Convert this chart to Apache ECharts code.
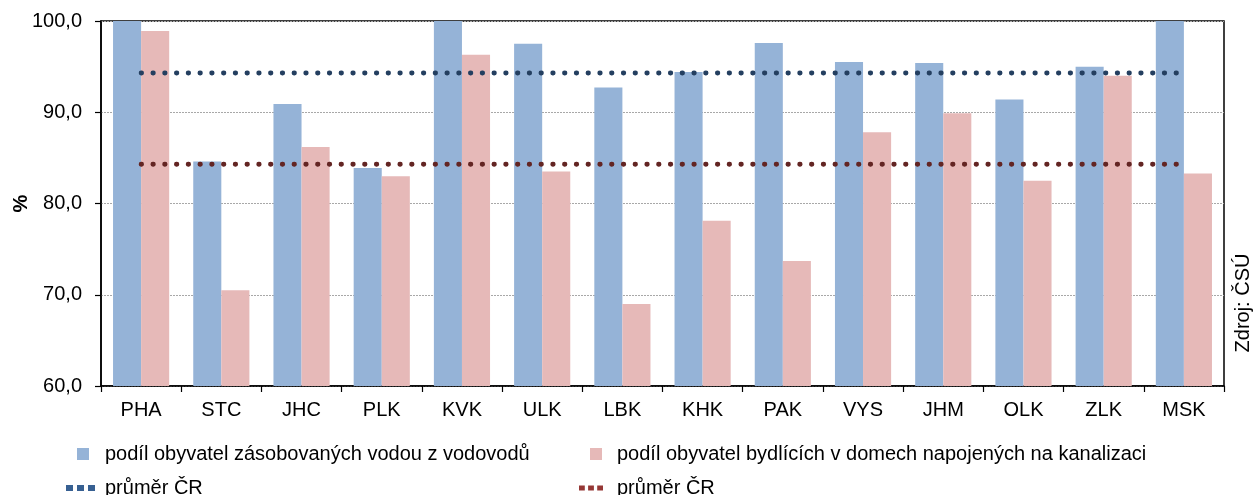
<!DOCTYPE html>
<html>
<head>
<meta charset="utf-8">
<script src="https://cdn.jsdelivr.net/npm/echarts@6/dist/echarts.min.js"></script>
<style>
html,body{margin:0;padding:0;background:#fff;}
#chart{width:1255px;height:495px;}
</style>
</head>
<body>
<div id="chart"></div>
<script>
const categories = ['PHA','STC','JHC','PLK','KVK','ULK','LBK','KHK','PAK','VYS','JHM','OLK','ZLK','MSK'];
const waterShare = [100.0, 84.6, 90.9, 83.9, 100.0, 97.5, 92.7, 94.4, 97.6, 95.5, 95.4, 91.4, 95.0, 100.0];
const sewerShare = [98.9, 70.5, 86.2, 83.0, 96.3, 83.5, 69.0, 78.1, 73.7, 87.8, 89.9, 82.5, 94.0, 83.3];
const avgWater = 94.3;
const avgSewer = 84.3;
const yTicks = [60, 70, 80, 90, 100];

const nameWater = 'podíl obyvatel zásobovaných vodou z vodovodů';
const nameSewer = 'podíl obyvatel bydlících v domech napojených na kanalizaci';
const nameAvgWater = 'průměr ČR (voda)';
const nameAvgSewer = 'průměr ČR (kanalizace)';

const FONT = "'Liberation Sans', Arial, sans-serif";
const dotsIcon = 'path://M0,0h7v6h-7z M11,0h7v6h-7z M22,0h7v6h-7z';

const chart = echarts.init(document.getElementById('chart'), null, {renderer: 'canvas'});
const legendBase = {
  orient: 'horizontal', padding: 0, selectedMode: false,
  textStyle: {fontFamily: FONT, fontSize: 20, color: '#000'}
};
chart.setOption({
  animation: false,
  backgroundColor: '#fff',
  textStyle: {fontFamily: FONT},
  grid: {left: 101, right: 31, top: 21, bottom: 109, show: true, borderColor: '#000', borderWidth: 1.5,
    containLabel: false, outerBoundsMode: 'none'},
  xAxis: {
    type: 'category', data: categories, boundaryGap: true,
    axisLine: {show: true, lineStyle: {color: '#000', width: 1.5}},
    axisTick: {show: true, length: 6, lineStyle: {color: '#000', width: 1.2}},
    axisLabel: {fontFamily: FONT, fontSize: 20, color: '#000', margin: 14},
    splitLine: {show: false}
  },
  yAxis: {
    type: 'value', min: yTicks[0], max: yTicks[yTicks.length - 1], interval: 10,
    name: '%', nameLocation: 'middle', nameGap: 70, nameRotate: 90, nameMoveOverlap: false,
    nameTextStyle: {fontFamily: FONT, fontSize: 20, fontWeight: 'bold', color: '#000'},
    axisLine: {show: true, lineStyle: {color: '#000', width: 1.5}},
    axisTick: {show: true, length: 6, lineStyle: {color: '#000', width: 1.2}},
    axisLabel: {fontFamily: FONT, fontSize: 20, color: '#000', margin: 19,
      formatter: v => v.toFixed(1).replace('.', ',')},
    splitLine: {show: true, lineStyle: {color: '#a8a8a8', width: 1, type: [2, 1]}}
  },
  legend: [
    Object.assign({}, legendBase, {
      left: 77, top: 444, itemWidth: 12, itemHeight: 12,
      data: [{name: nameWater, icon: 'rect', itemStyle: {color: '#95B3D7'}}],
      textStyle: Object.assign({}, legendBase.textStyle, {padding: [0, 0, 0, 11]})
    }),
    Object.assign({}, legendBase, {
      left: 590, top: 444, itemWidth: 12, itemHeight: 12,
      data: [{name: nameSewer, icon: 'rect', itemStyle: {color: '#E6B9B8'}}],
      textStyle: Object.assign({}, legendBase.textStyle, {padding: [0, 0, 0, 10]})
    }),
    Object.assign({}, legendBase, {
      left: 66, top: 478, itemWidth: 29, itemHeight: 6,
      data: [{name: nameAvgWater, icon: dotsIcon, itemStyle: {color: '#376092'}}],
      formatter: () => 'průměr ČR',
      textStyle: Object.assign({}, legendBase.textStyle, {padding: [0, 0, 0, 5]})
    }),
    Object.assign({}, legendBase, {
      left: 579, top: 478, itemWidth: 24, itemHeight: 5,
      data: [{name: nameAvgSewer, icon: dotsIcon, itemStyle: {color: '#953735'}}],
      formatter: () => 'průměr ČR',
      textStyle: Object.assign({}, legendBase.textStyle, {padding: [0, 0, 0, 9]})
    })
  ],
  graphic: [{
    type: 'text', x: 1243, y: 303, rotation: Math.PI / 2,
    style: {text: 'Zdroj: ČSÚ', font: "20px 'Liberation Sans', Arial, sans-serif", fill: '#000',
      textAlign: 'center', textVerticalAlign: 'middle'}
  }],
  series: [
    {name: nameWater, type: 'bar', data: waterShare, barGap: '0%', barCategoryGap: '30%',
      itemStyle: {color: '#95B3D7'}, emphasis: {disabled: true}},
    {name: nameSewer, type: 'bar', data: sewerShare, barGap: '0%', barCategoryGap: '30%',
      itemStyle: {color: '#E6B9B8'}, emphasis: {disabled: true}},
    {name: nameAvgWater, type: 'line', data: categories.map(() => avgWater), symbol: 'none',
      lineStyle: {color: '#243F60', width: 4.8, type: [0.5, 11.26], cap: 'round'}, z: 5},
    {name: nameAvgSewer, type: 'line', data: categories.map(() => avgSewer), symbol: 'none',
      lineStyle: {color: '#632523', width: 4.8, type: [0.5, 11.26], cap: 'round'}, z: 5}
  ]
});
</script>
</body>
</html>
